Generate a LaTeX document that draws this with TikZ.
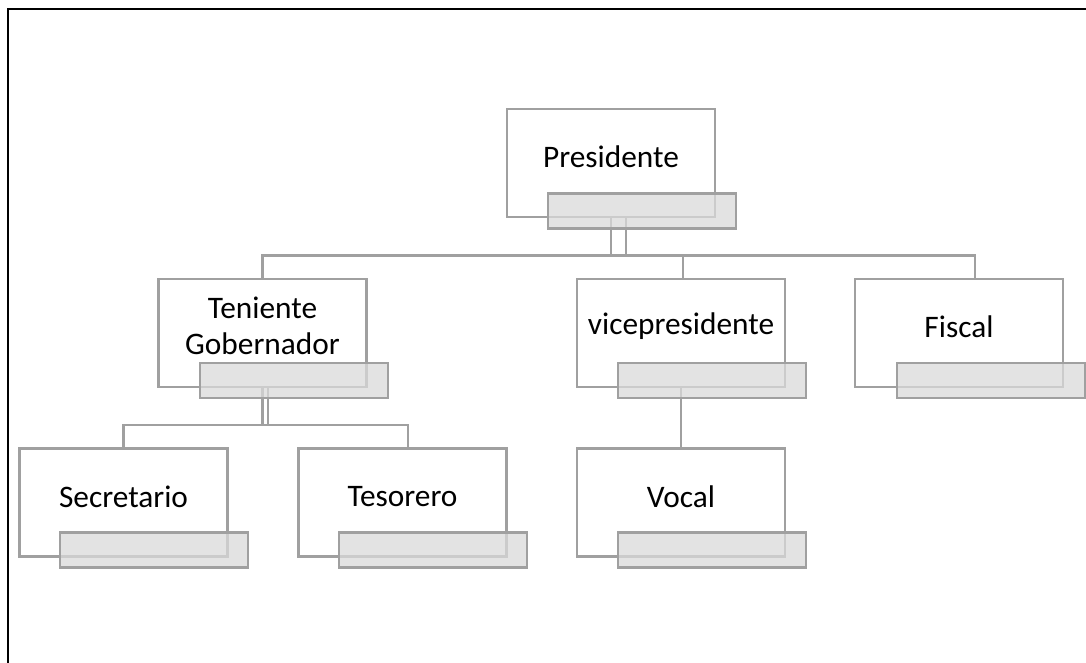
\documentclass[tikz,border=0pt]{standalone}
\usepackage{fontspec}
\setmainfont{Carlito}
\definecolor{edge}{HTML}{A0A0A0}
\definecolor{gfill}{HTML}{DADADA}
\begin{document}
\begin{tikzpicture}[x=0.75pt,y=-0.75pt,
  wbox/.style={draw=edge,line width=1.65pt,fill=white,minimum width=156pt,minimum height=81pt,inner sep=0pt},
  gbox/.style={draw=edge,line width=1.65pt,fill=gfill,fill opacity=0.75,minimum width=141pt,minimum height=26.25pt,inner sep=0pt},
  conn/.style={draw=edge,line width=1.65pt},
  lbl/.style={font=\fontsize{23.5}{27}\selectfont,align=center,inner sep=0pt,text=black},
  frame/.style={draw=black,line width=1pt}]
\useasboundingbox (0,0) rectangle (1086,663);
% outer frame (top and left)
\coordinate (fTL) at (8,9);
\coordinate (fTR) at (1086,9);
\coordinate (fBL) at (8,663);
\draw[frame] (fBL) -- (fTL) -- (fTR);
% white boxes
\node[wbox] (pres) at (611,163) {};
\node[wbox] (ten) at (262.5,333) {};
\node[wbox] (vice) at (681,333) {};
\node[wbox] (fis) at (959,333) {};
\node[wbox] (sec) at (123.5,502.5) {};
\node[wbox] (tes) at (402.5,502.5) {};
\node[wbox] (voc) at (681,502.5) {};
% bus coordinates
\coordinate (busP) at (0,255.5);
\coordinate (busT) at (0,425);
% connectors
\draw[conn] (pres.south) -- (pres.south |- busP) -- ([xshift=11.25pt]pres.south |- busP) -- ([xshift=11.25pt]pres.south);
\draw[conn] (ten.north) -- (ten.north |- busP) -- ([xshift=12pt]fis.north |- busP) -- ([xshift=12pt]fis.north);
\draw[conn] ([xshift=1.5pt]vice.north) -- ([xshift=1.5pt]vice.north |- busP);
\draw[conn] (ten.south) -- (ten.south |- busT) -- ([xshift=4pt]ten.south |- busT) -- ([xshift=4pt]ten.south);
\draw[conn] (sec.north) -- (sec.north |- busT) -- ([xshift=4pt]tes.north |- busT) -- ([xshift=4pt]tes.north);
\draw[conn] (vice.south) -- (voc.north);
% gray boxes
\node[gbox] (presG) at (642,211) {};
\node[gbox] (tenG) at (294,380.5) {};
\node[gbox] (viceG) at (712,380.5) {};
\node[gbox] (fisG) at (991,380.5) {};
\node[gbox] (secG) at (154,550) {};
\node[gbox] (tesG) at (433,550) {};
\node[gbox] (vocG) at (712,550) {};
% labels
\node[lbl] (presT) at ([yshift=4.5pt]pres.center) {Presidente};
\node[lbl] (tenT) at ([yshift=5pt]ten.center) {Teniente\\Gobernador};
\node[lbl] (viceT) at ([yshift=5pt]vice.center) {vicepresidente};
\node[lbl] (fisT) at ([yshift=5pt]fis.center) {Fiscal};
\node[lbl] (secT) at ([yshift=4.5pt]sec.center) {Secretario};
\node[lbl] (tesT) at ([yshift=4.5pt]tes.center) {Tesorero};
\node[lbl] (vocT) at ([yshift=4.5pt]voc.center) {Vocal};
\end{tikzpicture}
\end{document}
